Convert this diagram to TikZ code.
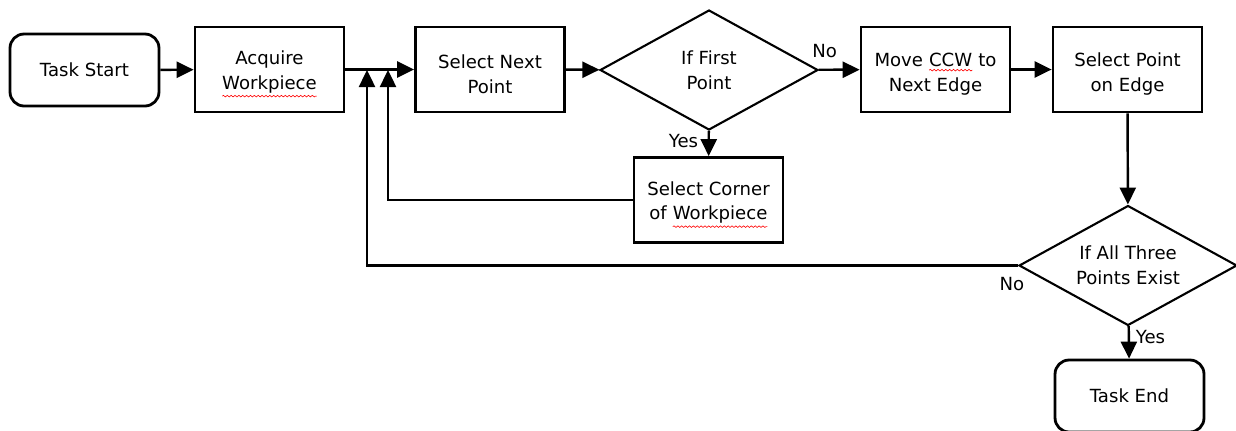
\documentclass[tikz,border=0pt]{standalone}
\usepackage{fontspec}
\setmainfont{DejaVu Sans}
\usepackage{tikz}
\usetikzlibrary{arrows.meta,shapes.geometric,decorations.pathmorphing}
\tikzset{
  boxbase/.style={rectangle, draw=black, line width=1.6pt, fill=white,
    minimum width=2.98cm, align=center, font=\fontsize{10.3}{14}\selectfont},
  stepnode/.style={boxbase, minimum height=1.7cm},
  termnode/.style={boxbase, rounded corners=8pt, minimum height=1.44cm},
  testnode/.style={diamond, draw=black, line width=1.2pt, fill=white, aspect=1.82,
    minimum width=4.36cm, minimum height=2.4cm, inner sep=0pt, align=center,
    font=\fontsize{10.3}{14}\selectfont},
  flowedge/.style={-{Triangle[length=3.4mm,width=3.2mm]}, draw=black, line width=1.4pt},
  edgelabel/.style={font=\fontsize{10.3}{12}\selectfont},
  plainword/.style={shape=rectangle, draw=none, fill=none, inner sep=0pt, outer sep=0pt,
    minimum width=0pt, minimum height=0pt, rounded corners=0pt},
  spellmark/.style={draw=red, line width=0.35pt, decorate,
    decoration={snake, amplitude=0.45pt, segment length=2.2pt}},
}
% tall first line, so two line box texts sit a little lower
\newcommand{\toprow}{\rule{0pt}{13pt}}
% word with a red spell check wave under it
\newcommand{\spellword}[1]{\tikz[baseline=(sw.base)]{\node[plainword] (sw) {#1};
  \draw[spellmark] ([yshift=-1.8pt]sw.south west) -- ([yshift=-1.8pt]sw.south east);}}
\begin{document}
\begin{tikzpicture}[x=0.02cm, y=-0.02cm]
  \useasboundingbox (0,0) rectangle (1236,430);
  % top row
  \node[termnode] (start) at (84.5,70) {Task Start};
  \node[stepnode] (acquire) at (269.5,69.5) {\toprow Acquire\\\spellword{Workpiece}};
  \node[stepnode] (nextpt) at (490,69.5) {\toprow Select Next\\Point};
  \node[testnode] (firstpt) at (709,70) {If First\\Point};
  \node[stepnode] (moveccw) at (935.5,69.5) {\toprow Move \spellword{CCW} to\\Next Edge};
  \node[stepnode] (edgept) at (1127.5,69.5) {\toprow Select Point\\on Edge};
  % lower part
  \node[stepnode] (corner) at (708.5,200) {\toprow Select Corner\\of \spellword{Workpiece}};
  \node[testnode] (allthree) at (1128,265.5) {If All Three\\Points Exist};
  \node[termnode] (finish) at (1129.5,396) {Task End};
  \coordinate (joinA) at (367,70);
  \coordinate (joinB) at (388,70);
  % connectors
  \draw[flowedge] (start) -- (acquire);
  \draw[flowedge] (acquire) -- (nextpt);
  \draw[flowedge] (nextpt) -- (firstpt);
  \draw[flowedge] (firstpt) -- (moveccw) node[pos=0.15, above=3pt, edgelabel] {No};
  \draw[flowedge] (moveccw) -- (edgept);
  \draw[flowedge] (firstpt) -- (corner) node[pos=0.4, left=2pt, edgelabel] {Yes};
  \draw[flowedge] (edgept) -- (allthree);
  \draw[flowedge] (allthree) -- (finish) node[pos=0.35, right, edgelabel] {Yes};
  \draw[flowedge] (corner.west) -| (joinB);
  \draw[flowedge] (allthree.west) -| (joinA);
  \node[edgelabel] (nolabel) at (1012,284) {No};
\end{tikzpicture}
\end{document}
